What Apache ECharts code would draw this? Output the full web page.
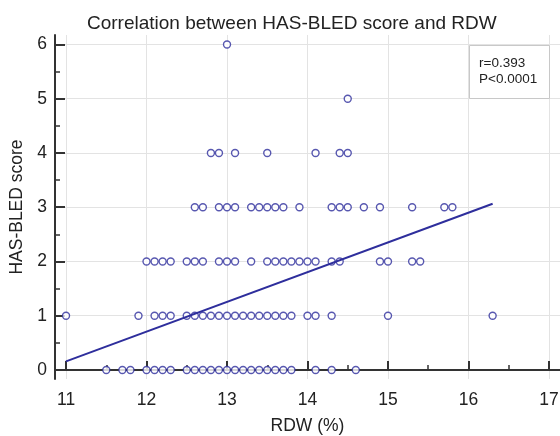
<!DOCTYPE html>
<html>
<head>
<meta charset="utf-8">
<script src="https://cdn.jsdelivr.net/npm/echarts@6/dist/echarts.min.js"></script>
<style>
  html, body { margin: 0; padding: 0; background: #fff; }
  #chart { width: 560px; height: 436px; }
</style>
</head>
<body>
<div id="chart"></div>
<script>
// RDW values (%) for each HAS-BLED score
const rdwScore0 = [11.5, 11.7, 11.8, 12.0, 12.1, 12.2, 12.3, 12.5, 12.6, 12.7, 12.8, 12.9, 13.0, 13.1, 13.2, 13.3, 13.4, 13.5, 13.6, 13.7, 13.8, 14.1, 14.3, 14.6]
const rdwScore1 = [11.0, 11.9, 12.1, 12.2, 12.3, 12.5, 12.6, 12.7, 12.8, 12.9, 13.0, 13.1, 13.2, 13.3, 13.4, 13.5, 13.6, 13.7, 13.8, 14.0, 14.1, 14.3, 15.0, 16.3]
const rdwScore2 = [12.0, 12.1, 12.2, 12.3, 12.5, 12.6, 12.7, 12.9, 13.0, 13.1, 13.3, 13.5, 13.6, 13.7, 13.8, 13.9, 14.0, 14.1, 14.3, 14.4, 14.9, 15.0, 15.3, 15.4]
const rdwScore3 = [12.6, 12.7, 12.9, 13.0, 13.1, 13.3, 13.4, 13.5, 13.6, 13.7, 13.9, 14.3, 14.4, 14.5, 14.7, 14.9, 15.3, 15.7, 15.8]
const rdwScore4 = [12.8, 12.9, 13.1, 13.5, 14.1, 14.4, 14.5]
const rdwScore5 = [14.5]
const rdwScore6 = [13.0]

// fitted line endpoints
const fitX = [11.0, 16.3]
const fitY = [0.16, 3.065]

const xTicks = [11, 12, 13, 14, 15, 16, 17]
const xMinorTicks = [11.5, 12.5, 13.5, 14.5, 15.5, 16.5]
const yTicks = [0, 1, 2, 3, 4, 5, 6]
const yMinorTicks = [0.5, 1.5, 2.5, 3.5, 4.5, 5.5]

const statLines = ['r=0.393', 'P<0.0001']

const rows = [rdwScore0, rdwScore1, rdwScore2, rdwScore3, rdwScore4, rdwScore5, rdwScore6]
const points = []
rows.forEach((vals, score) => {
  vals.forEach(v => points.push([v, score]))
})

const blue = '#2e2e9c'
const axisColor = '#333'
const font = 'Liberation Sans, Arial, sans-serif'

const chart = echarts.init(document.getElementById('chart'), null, { renderer: 'canvas' })

const option = {
  animation: false,
  backgroundColor: '#fff',
  title: {
    text: 'Correlation between HAS-BLED score and RDW',
    left: 82,
    top: 9,
    textStyle: { fontFamily: font, fontSize: 19, fontWeight: 'normal', color: '#222' }
  },
  grid: { left: 55, right: 0, top: 35, bottom: 57, containLabel: false, outerBoundsMode: 'none' },
  xAxis: [
    {
      type: 'value',
      min: 10.863,
      max: 17.137,
      position: 'bottom',
      name: 'RDW (%)',
      nameLocation: 'middle',
      nameGap: 38,
      nameTextStyle: { fontFamily: font, fontSize: 17.5, color: '#222' },
      axisLine: { show: true, lineStyle: { color: axisColor, width: 2 } },
      axisTick: { show: true, inside: true, length: 9, customValues: xTicks, lineStyle: { color: axisColor, width: 2 } },
      axisLabel: { customValues: xTicks, fontFamily: font, fontSize: 17.5, color: '#222', margin: 12 },
      splitLine: { show: true, lineStyle: { color: '#e3e3e3', width: 1 } }
    },
    {
      type: 'value',
      min: 10.863,
      max: 17.137,
      position: 'bottom',
      axisLine: { show: false },
      axisTick: { show: true, inside: true, length: 5, customValues: xMinorTicks, lineStyle: { color: axisColor, width: 1.5 } },
      axisLabel: { show: false },
      splitLine: { show: false }
    }
  ],
  yAxis: [
    {
      type: 'value',
      min: -0.166,
      max: 6.175,
      position: 'left',
      name: 'HAS-BLED score',
      nameLocation: 'middle',
      nameGap: 28,
      nameTextStyle: { fontFamily: font, fontSize: 17.5, color: '#222' },
      axisLine: { show: true, lineStyle: { color: axisColor, width: 2 } },
      axisTick: { show: true, inside: true, length: 10, customValues: yTicks, lineStyle: { color: axisColor, width: 2 } },
      axisLabel: { customValues: yTicks, fontFamily: font, fontSize: 17.5, color: '#222', margin: 8 },
      splitLine: { show: true, lineStyle: { color: '#e3e3e3', width: 1 } }
    },
    {
      type: 'value',
      min: -0.166,
      max: 6.175,
      position: 'left',
      axisLine: { show: false },
      axisTick: { show: true, inside: true, length: 5, customValues: yMinorTicks, lineStyle: { color: axisColor, width: 1.5 } },
      axisLabel: { show: false },
      splitLine: { show: false }
    }
  ],
  graphic: [
    {
      type: 'rect',
      left: 469,
      top: 45,
      z: 100,
      shape: { width: 80, height: 53 },
      style: { fill: '#fff', stroke: '#c8c8c8', lineWidth: 1 }
    },
    {
      type: 'text',
      left: 479,
      top: 55,
      z: 101,
      style: {
        text: statLines.join('\n'),
        fontFamily: font,
        fontSize: 13.5,
        lineHeight: 16,
        fill: '#222'
      }
    }
  ],
  series: [
    {
      type: 'scatter',
      xAxisIndex: 0,
      yAxisIndex: 0,
      data: points,
      symbol: 'circle',
      symbolSize: 7,
      itemStyle: { color: '#fff', borderColor: blue, borderWidth: 1.4 }
    },
    {
      type: 'line',
      xAxisIndex: 0,
      yAxisIndex: 0,
      data: fitX.map((x, i) => [x, fitY[i]]),
      showSymbol: false,
      symbol: 'none',
      lineStyle: { color: blue, width: 2 }
    }
  ]
}

chart.setOption(option)
</script>
</body>
</html>
